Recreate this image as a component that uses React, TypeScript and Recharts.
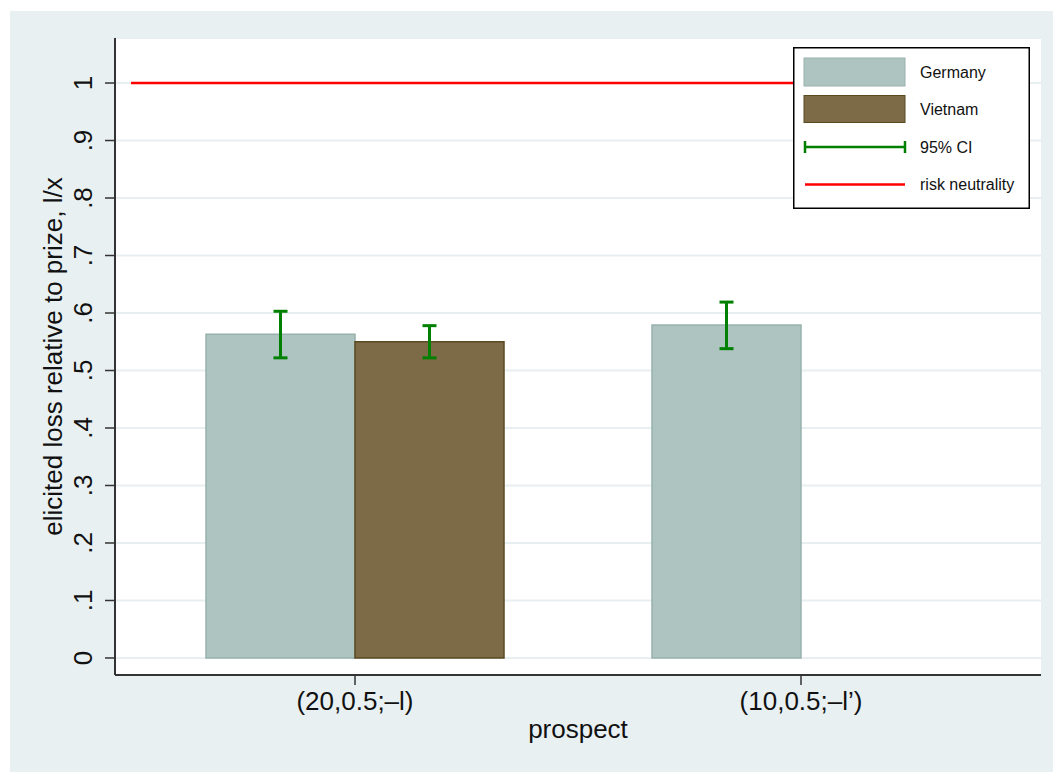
import React from 'react';
import {
  BarChart, Bar, XAxis, YAxis, CartesianGrid, ReferenceLine, ErrorBar, Legend,
} from 'recharts';

// values
const categories = ['(20,0.5;–l)', '(10,0.5;–l’)'];
const germany = [0.563, 0.579];
const vietnam: (number | null)[] = [0.55, null];
const germanyLo = [0.522, 0.538];
const germanyHi = [0.603, 0.619];
const vietnamLo: (number | null)[] = [0.522, null];
const vietnamHi: (number | null)[] = [0.578, null];
const yTicks = [0, 0.1, 0.2, 0.3, 0.4, 0.5, 0.6, 0.7, 0.8, 0.9, 1];

const C = {
  bg: '#e8f0f2',
  grid: '#e8eff1',
  axis: '#333333',
  germany: '#adc4c0',
  germanyEdge: '#98b1ac',
  vietnam: '#7d6a46',
  vietnamEdge: '#5a4a20',
  ci: '#008000',
  risk: '#ff0000',
  text: '#111111',
};
const FONT = '"Liberation Sans", Arial, Helvetica, sans-serif';

const data = categories.map((c, i) => ({
  cat: c,
  germany: germany[i],
  vietnam: vietnam[i],
  gErr: [germany[i] - germanyLo[i], germanyHi[i] - germany[i]],
  vErr: vietnam[i] == null ? null : [vietnam[i]! - vietnamLo[i]!, vietnamHi[i]! - vietnam[i]!],
}));

const fmtY = (v: number) => (v === 0 ? '0' : v === 1 ? '1' : String(Math.round(v * 10) / 10).replace(/^0/, ''));

/* eslint-disable @typescript-eslint/no-explicit-any */
function YTick({ x, y, payload }: any) {
  const bx = x - 11;
  return (
    <text x={bx} y={y} transform={`rotate(-90, ${bx}, ${y})`} textAnchor="middle"
      fontSize={26} fontFamily={FONT} fill={C.text}>
      {fmtY(payload.value)}
    </text>
  );
}

function XTick({ x, y, payload }: any) {
  return (
    <text x={x} y={y} dy={23} textAnchor="middle" fontSize={26} fontFamily={FONT} fill={C.text}>
      {payload.value}
    </text>
  );
}

function RiskLine({ x1, x2, y1 }: any) {
  return <line x1={Math.min(x1, x2) + 16} x2={Math.max(x1, x2) - 16} y1={y1} y2={y1} stroke={C.risk} strokeWidth={2.5} />;
}

function LegendBox() {
  const row = (i: number) => 25 + i * 37.5;
  return (
    <svg width={237} height={162} style={{ display: 'block' }}>
      <rect x={0.75} y={0.75} width={235.5} height={160.5} fill="#fff" stroke="#000" strokeWidth={1.5} />
      <rect x={11} y={row(0) - 14} width={101} height={28} fill={C.germany} stroke={C.germanyEdge} strokeWidth={1} />
      <rect x={11} y={row(1) - 14} width={101} height={27} fill={C.vietnam} stroke={C.vietnamEdge} strokeWidth={1} />
      <line x1={12} x2={112} y1={row(2)} y2={row(2)} stroke={C.ci} strokeWidth={2.5} />
      <line x1={12} x2={12} y1={row(2) - 6} y2={row(2) + 6} stroke={C.ci} strokeWidth={2.5} />
      <line x1={112} x2={112} y1={row(2) - 6} y2={row(2) + 6} stroke={C.ci} strokeWidth={2.5} />
      <line x1={12} x2={112} y1={row(3)} y2={row(3)} stroke={C.risk} strokeWidth={2.5} />
      {['Germany', 'Vietnam', '95% CI', 'risk neutrality'].map((t, i) => (
        <text key={t} x={127} y={row(i)} dy={5.5} fontSize={16} fontFamily={FONT} fill={C.text}>{t}</text>
      ))}
    </svg>
  );
}

export default function App() {
  return (
    <div style={{ position: 'absolute', left: 10, top: 11, width: 1043, height: 761, background: C.bg, overflow: 'hidden' }}>
      <BarChart
        width={1043}
        height={761}
        data={data}
        margin={{ top: 27, right: 12, left: 45, bottom: 37 }}
        barGap={0}
        barSize={149}
      >
        <CartesianGrid vertical={false} stroke={C.grid} strokeWidth={2} fill="#ffffff" />
        <XAxis
          dataKey="cat"
          height={60}
          padding={{ left: 17, right: 17 }}
          tickSize={10}
          tick={<XTick />}
          axisLine={{ stroke: C.axis, strokeWidth: 2 }}
          tickLine={{ stroke: C.axis, strokeWidth: 1.5 }}
          label={{
            content: ({ viewBox }: any) => (
              <text x={viewBox.x + viewBox.width / 2} y={viewBox.y + 63} textAnchor="middle"
                fontSize={26} fontFamily={FONT} fill={C.text}>prospect</text>
            ),
          }}
        />
        <YAxis
          width={60}
          type="number"
          domain={[-0.0296, 1.0783]}
          ticks={yTicks}
          allowDataOverflow
          tickSize={10}
          tick={<YTick />}
          axisLine={{ stroke: C.axis, strokeWidth: 2 }}
          tickLine={{ stroke: C.axis, strokeWidth: 1.5 }}
          label={{
            content: ({ viewBox }: any) => {
              const cx = viewBox.x + 7;
              const cy = viewBox.y + viewBox.height / 2;
              return (
                <text x={cx} y={cy} transform={`rotate(-90, ${cx}, ${cy})`} textAnchor="middle"
                  fontSize={26} fontFamily={FONT} fill={C.text}>elicited loss relative to prize, l/x</text>
              );
            },
          }}
        />
        <ReferenceLine y={1} shape={<RiskLine />} />
        <Bar dataKey="germany" name="Germany" fill={C.germany} stroke={C.germanyEdge} strokeWidth={1.5} isAnimationActive={false}>
          <ErrorBar dataKey="gErr" width={7} strokeWidth={3} stroke={C.ci} direction="y" />
        </Bar>
        <Bar dataKey="vietnam" name="Vietnam" fill={C.vietnam} stroke={C.vietnamEdge} strokeWidth={1.5} isAnimationActive={false}>
          <ErrorBar dataKey="vErr" width={7} strokeWidth={3} stroke={C.ci} direction="y" />
        </Bar>
        <Legend
          layout="vertical"
          align="center"
          verticalAlign="middle"
          content={<LegendBox />}
          wrapperStyle={{ position: 'absolute', left: 783, top: 36, width: 237, height: 162 }}
        />
      </BarChart>
    </div>
  );
}
